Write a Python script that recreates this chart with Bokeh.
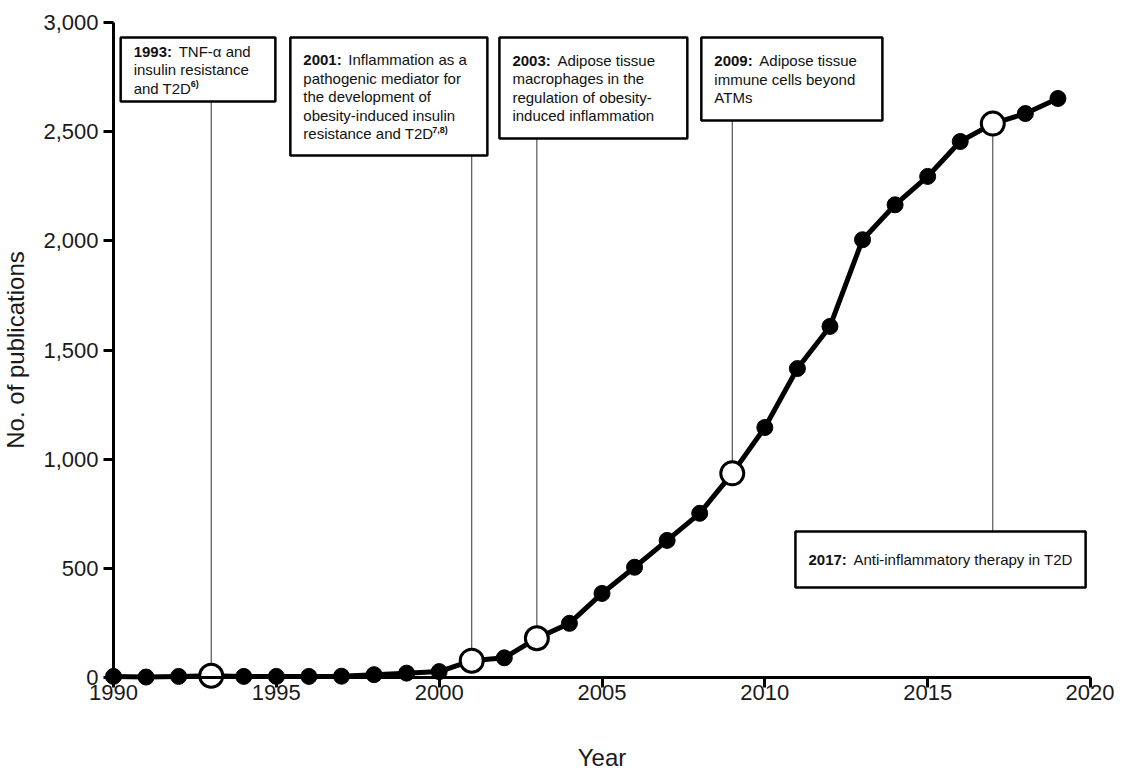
from bokeh.plotting import figure
from bokeh.models import (LinearAxis, FixedTicker, NumeralTickFormatter, Range1d,
                          ColumnDataSource)
from bokeh.core.properties import value
from bokeh.embed import file_html
from bokeh.resources import INLINE

# ---------------- data ----------------
years = list(range(1990, 2020))
publications = [5, 2, 5, 8, 5, 5, 5, 6, 13, 20, 27, 77, 90, 180, 248, 385, 505,
                628, 752, 935, 1145, 1415, 1608, 2005, 2165, 2295, 2455, 2537, 2583, 2652]

x_ticks = [1990, 1995, 2000, 2005, 2010, 2015, 2020]
y_ticks = [0, 500, 1000, 1500, 2000, 2500, 3000]

ann_years = [1993, 2001, 2003, 2009, 2017]
ann_bold = ["1993:", "2001:", "2003:", "2009:", "2017:"]
ann_lines = [
    ["TNF-\u03b1 and", "insulin resistance", "and T2D"],
    ["Inflammation as a", "pathogenic mediator for", "the development of",
     "obesity-induced insulin", "resistance and T2D"],
    ["Adipose tissue", "macrophages in the", "regulation of obesity-",
     "induced inflammation"],
    ["Adipose tissue", "immune cells beyond", "ATMs"],
    ["Anti-inflammatory therapy in T2D"],
]
ann_refs = ["6)", "7,8)", "", "", ""]

# box extents (data space): left/right in years, top/bottom in publications
box_left = [1990.22, 1995.43, 2001.85, 2008.05, 2010.94]
box_right = [1994.97, 2001.48, 2007.62, 2013.61, 2019.85]
box_top = [2931, 2931, 2931, 2931, 669]
box_bottom = [2638, 2391, 2469, 2551, 412]

# ---------------- style ----------------
FONT = "Liberation Sans"
PX_PER_UNIT = 655 / 3000            # vertical pixels per publication
LINE_H = 18.5
ann_sup_dx = [70, 142, 0, 0, 0]     # px from box left to start of reference mark
# centre the text block vertically in each box
ann_first = [((t - b) * PX_PER_UNIT) / 2 - LINE_H * (len(l) - 1) / 2
             for t, b, l in zip(box_top, box_bottom, ann_lines)]

# the frame fills the whole canvas; axes sit at fixed data locations
p = figure(width=1114, height=771,
           x_range=Range1d(1986.530, 2020.737), y_range=Range1d(-430.5, 3100.76),
           x_axis_type=None, y_axis_type=None,
           output_backend="svg", toolbar_location=None,
           min_border=0, min_border_left=0, min_border_right=0,
           min_border_top=0, min_border_bottom=0)
p.outline_line_color = None
p.background_fill_color = "white"
p.border_fill_color = "white"


def style_axis(ax):
    ax.axis_line_width = 3
    ax.axis_line_color = "black"
    ax.major_tick_line_width = 3
    ax.major_tick_line_color = "black"
    ax.major_tick_out = 10
    ax.major_tick_in = 0
    ax.minor_tick_line_color = None
    ax.major_label_text_font = FONT
    ax.major_label_text_font_size = "22px"
    ax.major_label_text_color = "#1a1a1a"
    ax.axis_label_text_font = FONT
    ax.axis_label_text_font_size = "24px"
    ax.axis_label_text_font_style = "normal"
    ax.axis_label_text_color = "#1a1a1a"


xaxis = LinearAxis(fixed_location=0, bounds=(1990, 2020),
                   ticker=FixedTicker(ticks=x_ticks), axis_label="Year")
style_axis(xaxis)
xaxis.major_label_standoff = -3
xaxis.axis_label_standoff = 41
p.add_layout(xaxis, "below")

yaxis = LinearAxis(fixed_location=1990, bounds=(0, 3000),
                   ticker=FixedTicker(ticks=y_ticks),
                   formatter=NumeralTickFormatter(format="0,0"),
                   axis_label="No. of publications")
style_axis(yaxis)
yaxis.major_label_standoff = 5
yaxis.axis_label_standoff = 11
p.add_layout(yaxis, "left")

# ---------------- leader lines ----------------
pub_at = {y: v for y, v in zip(years, publications)}
ann_vals = [pub_at[y] for y in ann_years]
lead_y0 = [b if t > v else t for t, b, v in zip(box_top, box_bottom, ann_vals)]
p.segment(x0=ann_years, y0=lead_y0, x1=ann_years, y1=ann_vals,
          line_color="#333333", line_width=1)

# ---------------- boxes ----------------
p.quad(left=box_left, right=box_right, top=box_top, bottom=box_bottom,
       fill_color="white", line_color="black", line_width=2.5)

# ---------------- series ----------------
p.line(years, publications, line_color="black", line_width=5)
filled = [(y, v) for y, v in zip(years, publications) if y not in ann_years]
p.scatter([f[0] for f in filled], [f[1] for f in filled], size=16,
          fill_color="black", line_color="black")
p.scatter(ann_years, ann_vals, size=23, fill_color="white",
          line_color="black", line_width=3)

# ---------------- annotation text ----------------
tx, ty, txo, tyo, tt = [], [], [], [], []
for i in range(len(ann_years)):
    for j, line in enumerate(ann_lines[i]):
        tx.append(box_left[i])
        ty.append(box_top[i])
        txo.append(13 + (45 if j == 0 else 0))
        tyo.append(ann_first[i] + LINE_H * j)
        tt.append(line)
src = ColumnDataSource(dict(x=tx, y=ty, xo=txo, yo=tyo, t=tt))
p.text(x="x", y="y", text="t", x_offset="xo", y_offset="yo", source=src,
       text_font=value(FONT), text_font_size="15px", text_color="#111111",
       text_baseline="middle", text_align="left")

bsrc = ColumnDataSource(dict(x=box_left, y=box_top, t=ann_bold,
                             yo=ann_first))
p.text(x="x", y="y", text="t", x_offset=13, y_offset="yo", source=bsrc,
       text_font=value(FONT), text_font_size="15px", text_font_style="bold",
       text_color="#111111", text_baseline="middle", text_align="left")

sx, sy, sxo, syo, st = [], [], [], [], []
for i in range(len(ann_years)):
    if ann_refs[i]:
        sx.append(box_left[i])
        sy.append(box_top[i])
        sxo.append(ann_sup_dx[i])
        syo.append(ann_first[i] + LINE_H * (len(ann_lines[i]) - 1) - 4)
        st.append(ann_refs[i])
ssrc = ColumnDataSource(dict(x=sx, y=sy, xo=sxo, yo=syo, t=st))
p.text(x="x", y="y", text="t", x_offset="xo", y_offset="yo", source=ssrc,
       text_font=value(FONT), text_font_size="9px", text_font_style="bold",
       text_color="#111111", text_baseline="middle", text_align="left")

open("out.html", "w").write(file_html(p, INLINE))
